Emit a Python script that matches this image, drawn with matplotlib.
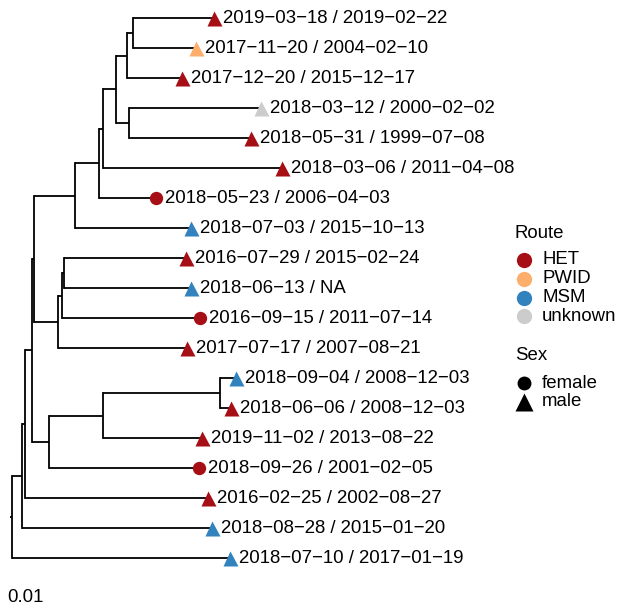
import matplotlib.pyplot as plt

# árvore (substituições/sítio), raiz com ramo de 0.0002
NEWICK = ("(((((((((((t1:0.0081,t2:0.0063):0.0006,t3:0.0055):0.0011,"
          "(t4:0.0132,t5:0.0122):0.0013):0.0013,t6:0.0179):0.0004,t7:0.0057):0.0024,"
          "t8:0.0116):0.0041,(((t9:0.0122,t10:0.0127):0.0002,t11:0.0138):0.0004,"
          "t12:0.0129):0.0024):0.0002,(((t13:0.0016,t14:0.0011):0.0117,t15:0.0099):0.0054,"
          "t16:0.0150):0.0017):0.0007,t17:0.0183):0.00023,t18:0.01893):0.00104,"
          "t19:0.02177):0.0002;")

tip_ids = ["t1", "t2", "t3", "t4", "t5", "t6", "t7", "t8", "t9", "t10",
           "t11", "t12", "t13", "t14", "t15", "t16", "t17", "t18", "t19"]
tip_labels = [
    "2019-03-18 / 2019-02-22", "2017-11-20 / 2004-02-10", "2017-12-20 / 2015-12-17",
    "2018-03-12 / 2000-02-02", "2018-05-31 / 1999-07-08", "2018-03-06 / 2011-04-08",
    "2018-05-23 / 2006-04-03", "2018-07-03 / 2015-10-13", "2016-07-29 / 2015-02-24",
    "2018-06-13 / NA", "2016-09-15 / 2011-07-14", "2017-07-17 / 2007-08-21",
    "2018-09-04 / 2008-12-03", "2018-06-06 / 2008-12-03", "2019-11-02 / 2013-08-22",
    "2018-09-26 / 2001-02-05", "2016-02-25 / 2002-08-27", "2018-08-28 / 2015-01-20",
    "2018-07-10 / 2017-01-19",
]
tip_route = ["HET", "PWID", "HET", "unknown", "HET", "HET", "HET", "MSM", "HET", "MSM",
             "HET", "HET", "MSM", "HET", "HET", "HET", "HET", "MSM", "MSM"]
tip_sex = ["male", "male", "male", "male", "male", "male", "female", "male", "male", "male",
           "female", "male", "male", "male", "male", "female", "male", "male", "male"]

routes = ["HET", "PWID", "MSM", "unknown"]
route_colors = ["#A50F15", "#FDAE6B", "#3182BD", "#CCCCCC"]
sexes = ["female", "male"]
sex_markers = ["o", "^"]
scale_width = 0.01

FONT = "Liberation Sans"
FS = 13.4


# ---------- leitura do newick ----------
def parse(s):
    pos = 0

    def node():
        nonlocal pos
        n = {"children": [], "name": "", "length": 0.0}
        if s[pos] == "(":
            pos += 1
            n["children"].append(node())
            while s[pos] == ",":
                pos += 1
                n["children"].append(node())
            pos += 1  # ')'
        start = pos
        while s[pos] not in ":,);":
            pos += 1
        n["name"] = s[start:pos]
        if s[pos] == ":":
            pos += 1
            start = pos
            while s[pos] not in ",);":
                pos += 1
            n["length"] = float(s[start:pos])
        return n

    return node()


root = parse(NEWICK)
n_tips = len(tip_ids)


def layout(n, x0, counter):
    n["x"] = x0 + n["length"]
    if not n["children"]:
        i = counter[0]
        counter[0] += 1
        n["y"] = n_tips - i
    else:
        for c in n["children"]:
            layout(c, n["x"], counter)
        n["y"] = sum(c["y"] for c in n["children"]) / len(n["children"])


layout(root, 0.0, [0])

# ---------- figura ----------
fig = plt.figure(figsize=(6.19, 6.10), dpi=100)
ax = fig.add_axes([0, 0, 1, 1])
ax.set_xlim(-0.001, 0.0609)
ax.set_ylim(-0.733, 19.6)
ax.axis("off")

lw = 1.3
tips = {}


def draw(n, x_parent):
    ax.plot([x_parent, n["x"]], [n["y"], n["y"]], color="black", lw=lw,
            solid_capstyle="butt", zorder=1)
    if n["children"]:
        ys = [c["y"] for c in n["children"]]
        ax.plot([n["x"], n["x"]], [min(ys), max(ys)], color="black", lw=lw,
                solid_capstyle="projecting", zorder=1)
        for c in n["children"]:
            draw(c, n["x"])
    else:
        tips[n["name"]] = (n["x"], n["y"])


draw(root, 0.0)

for tid, lab, rt, sx in zip(tip_ids, tip_labels, tip_route, tip_sex):
    x, y = tips[tid]
    ax.plot(x, y, marker=sex_markers[sexes.index(sx)], ms=10.8 if sx == "male" else 9.6,
            color=route_colors[routes.index(rt)], mec="none", zorder=3)
    ax.text(x + 0.00095, y, lab.replace("-", "\u2212"), fontsize=FS,
            family=FONT, ha="left", va="center", zorder=4)

# escala (só o rótulo)
ax.text(0.0015, -0.32, f"{scale_width:g}", fontsize=FS, family=FONT,
        ha="center", va="center")

# ---------- legendas (em pixels da figura) ----------
lax = fig.add_axes([0, 0, 1, 1])
lax.set_xlim(0, 619)
lax.set_ylim(610, 0)
lax.axis("off")

x_title, x_key, x_lab = 515, 523.5, 542
row = 18.8

lax.text(x_title, 233, "Route", fontsize=FS, family=FONT, ha="left", va="center")
for i, (r, c) in enumerate(zip(routes, route_colors)):
    yy = 260 + i * row
    lax.plot(x_key, yy, marker="o", ms=11, color=c, mec="none")
    lax.text(x_lab, yy, r, fontsize=FS, family=FONT, ha="left", va="center")

lax.text(x_title, 356, "Sex", fontsize=FS, family=FONT, ha="left", va="center")
for i, (s, m) in enumerate(zip(sexes, sex_markers)):
    yy = 383 + i * row
    lax.plot(x_key, yy, marker=m, ms=10 if m == "o" else 13, color="black", mec="none")
    lax.text(x_lab, yy, s, fontsize=FS, family=FONT, ha="left", va="center")

fig.savefig("out.png", dpi=100)
